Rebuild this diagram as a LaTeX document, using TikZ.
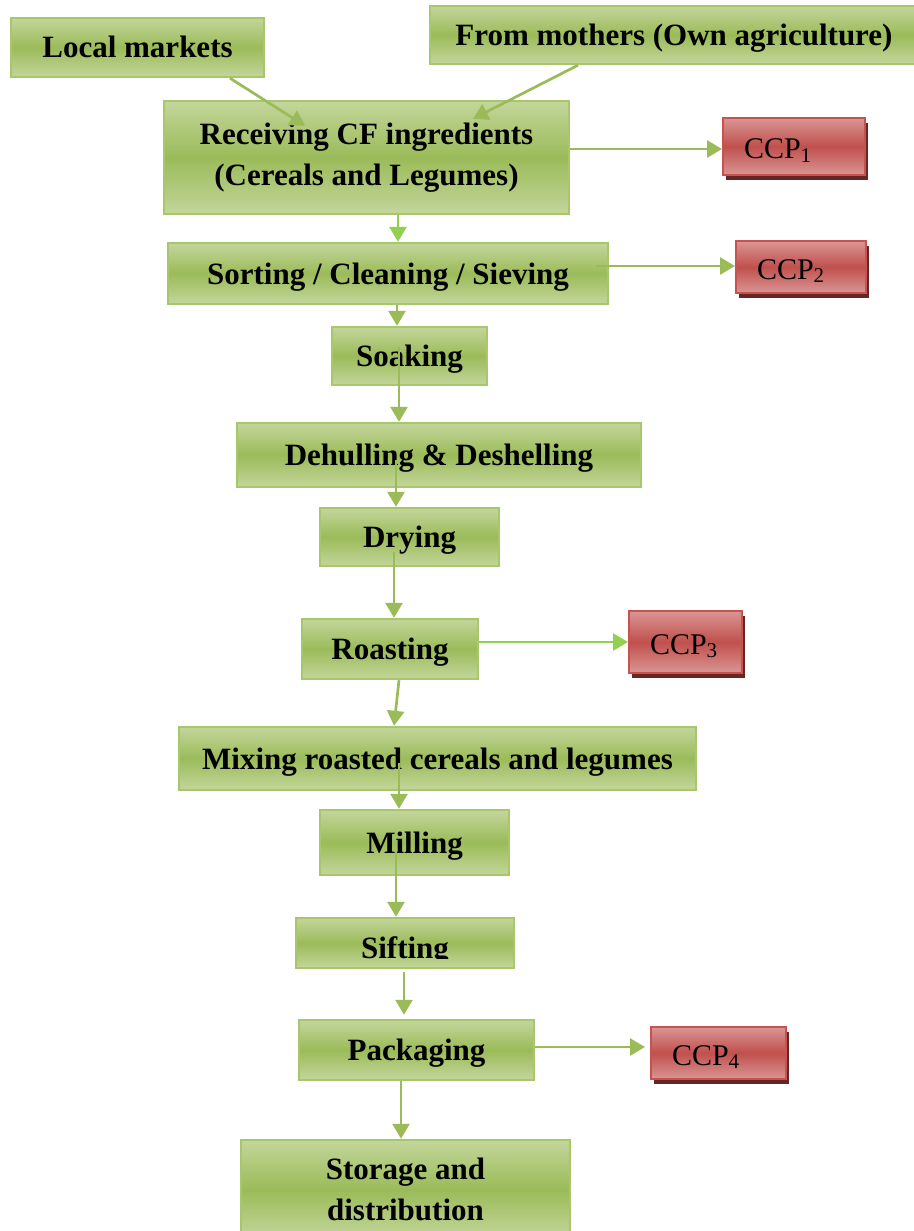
\documentclass[tikz,border=0pt]{standalone}
\usepackage{fontspec}
\setmainfont{Liberation Serif}
\usetikzlibrary{arrows.meta,shadows}
\definecolor{gmid}{HTML}{9BBB59}
\definecolor{glight}{HTML}{C3D69B}
\definecolor{gborder}{HTML}{A8C66C}
\definecolor{arrcol}{HTML}{9BBB59}
\definecolor{arrbright}{HTML}{92D050}
\definecolor{ccpmid}{HTML}{C0504D}
\definecolor{ccplight}{HTML}{D99694}
\definecolor{ccpborder}{HTML}{C8524F}
\definecolor{ccpshadow}{HTML}{652624}
\newcommand{\ccplabel}[1]{CCP{\fontsize{21}{21}\selectfont\raisebox{-3.5pt}{#1}}}
\tikzset{
  gbase/.style={draw=gborder, line width=2.4pt, top color=glight, bottom color=glight,
    middle color=gmid, font=\bfseries\fontsize{31}{41}\selectfont, inner sep=0pt, align=center},
  gbox/.style={gbase, text height=21pt, text depth=0pt},
  gtext/.style={font=\bfseries\fontsize{31}{41}\selectfont, inner sep=0pt},
  ccp/.style={draw=ccpborder, line width=2pt, top color=ccplight, bottom color=ccplight,
    middle color=ccpmid,
    general shadow={fill=ccpshadow, shadow xshift=3pt, shadow yshift=-5pt},
    font=\fontsize{30}{30}\selectfont, text height=24pt, text depth=0pt,
    inner xsep=21pt, inner ysep=0pt, align=left},
  arr/.style={draw=arrcol, line width=2.7pt, -{Triangle[length=15pt,width=17pt]}},
}
\begin{document}
\begin{tikzpicture}[x=1pt,y=-1pt]
\useasboundingbox (0,0) rectangle (913,1231);
% boxes
\node[gbox, minimum width=253pt, minimum height=59pt] (lm) at (137.5,47.5) {Local markets};
\node[gbox, minimum width=488pt, minimum height=58pt] (fm) at (674,35) {From mothers (Own agriculture)};
\node[gbase, minimum width=405pt, minimum height=113pt] (recv) at (366.5,157.5) {Receiving CF ingredients\\(Cereals and Legumes)};
\node[ccp, text width=100pt, minimum height=57pt] (ccp1) at (794,146.5) {\ccplabel{1}};
\node[gbox, minimum width=440pt, minimum height=61pt] (sort) at (388,273.5) {Sorting / Cleaning / Sieving};
\node[ccp, text width=88pt, minimum height=52pt] (ccp2) at (801,267) {\ccplabel{2}};
\node[gbox, minimum width=155pt, minimum height=58pt] (soak) at (409.5,356) {Soaking};
\node[gbox, minimum width=404pt, minimum height=64pt] (dehull) at (439,455) {Dehulling \& Deshelling};
\node[gbox, minimum width=179pt, minimum height=58pt] (dry) at (409.5,537) {Drying};
\node[gbox, minimum width=176pt, minimum height=60pt] (roast) at (390,649) {Roasting};
\node[ccp, text width=71pt, minimum height=62pt] (ccp3) at (685.5,642) {\ccplabel{3}};
\node[gbox, minimum width=517pt, minimum height=63pt] (mix) at (437.5,758.5) {Mixing roasted cereals and legumes};
\node[gbox, minimum width=189pt, minimum height=65pt] (mill) at (414.5,842.5) {Milling};
\node[gbase, minimum width=218pt, minimum height=50pt] (sift) at (405,943) {};
\begin{scope}
  \clip ([yshift=11pt]sift.south west) rectangle (sift.north east);
  \node[gtext, anchor=base] (siftlabel) at ([yshift=11pt]sift.south) {Sifting};
\end{scope}
\node[gbox, minimum width=235pt, minimum height=60pt] (pack) at (416.5,1050) {Packaging};
\node[ccp, text width=93pt, minimum height=52pt] (ccp4) at (718.5,1053) {\ccplabel{4}};
\node[gbase, minimum width=329pt, minimum height=99pt] (store) at (405.5,1189.5) {Storage and\\distribution};
% arrow start points
\coordinate (a1) at ([xshift=92.5pt]lm.south);
\coordinate (a2) at ([xshift=-96pt]fm.south);
\coordinate (a3) at ([yshift=8.5pt]recv.east);
\coordinate (a4) at ([xshift=31.5pt]recv.south);
\coordinate (a5) at ([xshift=-13pt,yshift=7.5pt]sort.east);
\coordinate (a6) at ([xshift=9pt]sort.south);
\coordinate (a7) at ([xshift=-10.5pt,yshift=9pt]soak.center);
\coordinate (a8) at ([xshift=-43pt,yshift=-5pt]dehull.center);
\coordinate (a9) at ([xshift=-15.5pt,yshift=-15pt]dry.center);
\coordinate (a10) at ([yshift=7pt]roast.east);
\coordinate (a11) at ([xshift=9pt]roast.south);
\coordinate (a12) at ([xshift=-38.5pt,yshift=-4.5pt]mix.center);
\coordinate (a13) at ([xshift=-18.5pt,yshift=-7.5pt]mill.center);
\coordinate (a14) at ([xshift=-1pt,yshift=-3pt]sift.south);
\coordinate (a15) at ([yshift=3pt]pack.east);
\coordinate (a16) at ([xshift=-15.5pt]pack.south);
% arrows
\draw[arr] (a1) -- ([xshift=-61.5pt,yshift=-26pt]recv.north);
\draw[arr] (a2) -- ([xshift=106.5pt,yshift=-19pt]recv.north);
\draw[arr] (a3) -- (a3 -| ccp1.west);
\draw[arr, draw=arrbright] (a4) -- (a4 |- sort.north);
\draw[arr] (a5) -- (a5 -| ccp2.west);
\draw[arr] (a6) -- (a6 |- soak.north);
\draw[arr] (a7) -- (a7 |- dehull.north);
\draw[arr] (a8) -- (a8 |- dry.north);
\draw[arr] (a9) -- (a9 |- roast.north);
\draw[arr, draw=arrbright] (a10) -- (a10 -| ccp3.west);
\draw[arr] (a11) -- ([xshift=-43.5pt]mix.north);
\draw[arr] (a12) -- (a12 |- mill.north);
\draw[arr] (a13) -- (a13 |- sift.north);
\draw[arr, shorten >=4pt] (a14) -- (a14 |- pack.north);
\draw[arr, shorten >=5pt] (a15) -- (a15 -| ccp4.west);
\draw[arr] (a16) -- (a16 |- store.north);
\end{tikzpicture}
\end{document}
